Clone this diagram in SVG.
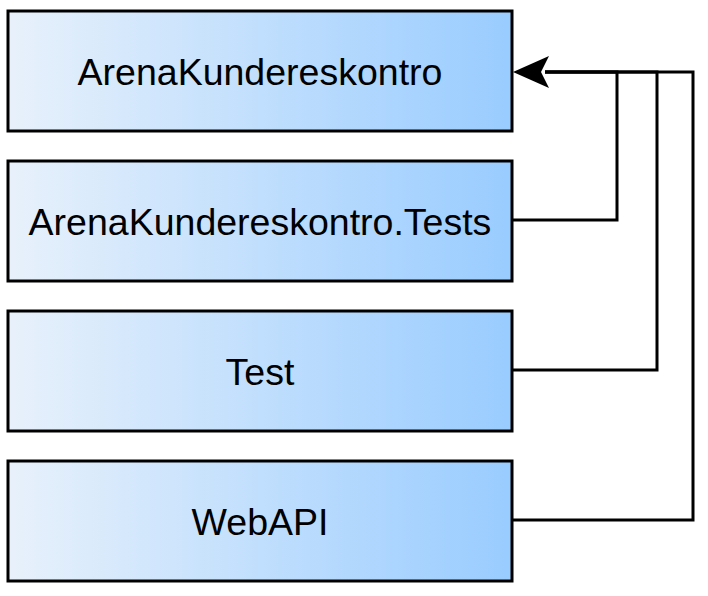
<svg xmlns="http://www.w3.org/2000/svg" width="708" height="596" viewBox="0 0 708 596">
<defs>
<linearGradient id="g" x1="0" y1="0" x2="1" y2="0">
<stop offset="0" stop-color="#E8F1FB"/>
<stop offset="1" stop-color="#99CCFF"/>
</linearGradient>
<style>
.box{fill:url(#g);stroke:#000;stroke-width:3}
.lbl{font-family:"Liberation Sans",Arial,sans-serif;font-size:37.5px;fill:#000;text-anchor:middle}
.edge{fill:none;stroke:#000;stroke-width:3}
</style>
</defs>
<rect width="708" height="596" fill="#fff"/>
<g id="connectors">
<path class="edge" d="M512,220 H617 V72 H545"/>
<path class="edge" d="M512,370 H657 V72 H545"/>
<path class="edge" d="M512,520 H693 V72 H545"/>
<path d="M513,72 L549,56 L541,72 L549,88 Z" fill="#000"/>
</g>
<g id="node1"><rect class="box" x="8" y="11" width="504" height="120"/><text class="lbl" x="260" y="85">ArenaKundereskontro</text></g>
<g id="node2"><rect class="box" x="8" y="161" width="504" height="120"/><text class="lbl" x="260" y="235">ArenaKundereskontro.Tests</text></g>
<g id="node3"><rect class="box" x="8" y="311" width="504" height="120"/><text class="lbl" x="260" y="385">Test</text></g>
<g id="node4"><rect class="box" x="8" y="461" width="504" height="120"/><text class="lbl" x="260" y="535">WebAPI</text></g>
</svg>
